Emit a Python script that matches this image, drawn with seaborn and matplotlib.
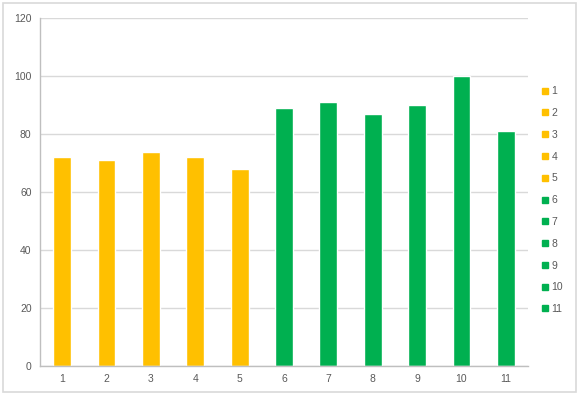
import matplotlib
matplotlib.use("Agg")
import matplotlib.pyplot as plt
from matplotlib.lines import Line2D
import seaborn as sns
import pandas as pd
import numpy as np

categories = ["1", "2", "3", "4", "5", "6", "7", "8", "9", "10", "11"]
values = [72, 71, 74, 72, 68, 89, 91, 87, 90, 100, 81]
colors = ["#FFC000"] * 5 + ["#00B050"] * 6
y_ticks = [0, 20, 40, 60, 80, 100, 120]

df = pd.DataFrame({"cat": categories, "val": values})

sns.set_style("white")
plt.rcParams["font.family"] = ["Liberation Sans", "DejaVu Sans"]

fig = plt.figure(figsize=(5.79, 3.95), dpi=100)
ax = fig.add_axes([0.069, 0.0734, 0.843, 0.8806])

palette = dict(zip(categories, colors))
sns.barplot(data=df, x="cat", y="val", hue="cat", palette=palette, dodge=False,
            width=0.4, legend=False, ax=ax, saturation=1)

grey = "#595959"
ax.set_ylim(0, 120)
ax.set_xlim(-0.5, len(categories) - 0.5)
ax.set_yticks(y_ticks)
ax.set_yticklabels([str(t) for t in y_ticks])
ax.yaxis.grid(True, color="#D9D9D9", linewidth=1)
ax.set_axisbelow(True)
ax.set_xlabel("")
ax.set_ylabel("")
ax.tick_params(axis="both", labelsize=7.5, labelcolor=grey, length=0, pad=6)
ax.set_xticks(np.arange(-0.5, len(categories)), minor=True)
ax.tick_params(axis="x", which="minor", length=4, color="#BFBFBF", width=1)
for s in ["top", "right"]:
    ax.spines[s].set_visible(False)
for s in ["left", "bottom"]:
    ax.spines[s].set_color("#BFBFBF")
    ax.spines[s].set_linewidth(1)

handles = [Line2D([0], [0], marker="s", linestyle="none", markersize=5,
                  markerfacecolor=c, markeredgecolor=c) for c in colors]
leg = ax.legend(handles, categories, loc="upper left", bbox_to_anchor=(1.019, 0.816),
                frameon=False, fontsize=7.5, handlelength=0.6, handletextpad=0.35,
                labelspacing=1.13, borderaxespad=0)
for t in leg.get_texts():
    t.set_color(grey)

fig.patches.append(plt.Rectangle((0.005, 0.008), 0.99, 0.984, transform=fig.transFigure,
                                 fill=False, edgecolor="#D9D9D9", linewidth=1.2))

fig.savefig("out.png", dpi=100)
